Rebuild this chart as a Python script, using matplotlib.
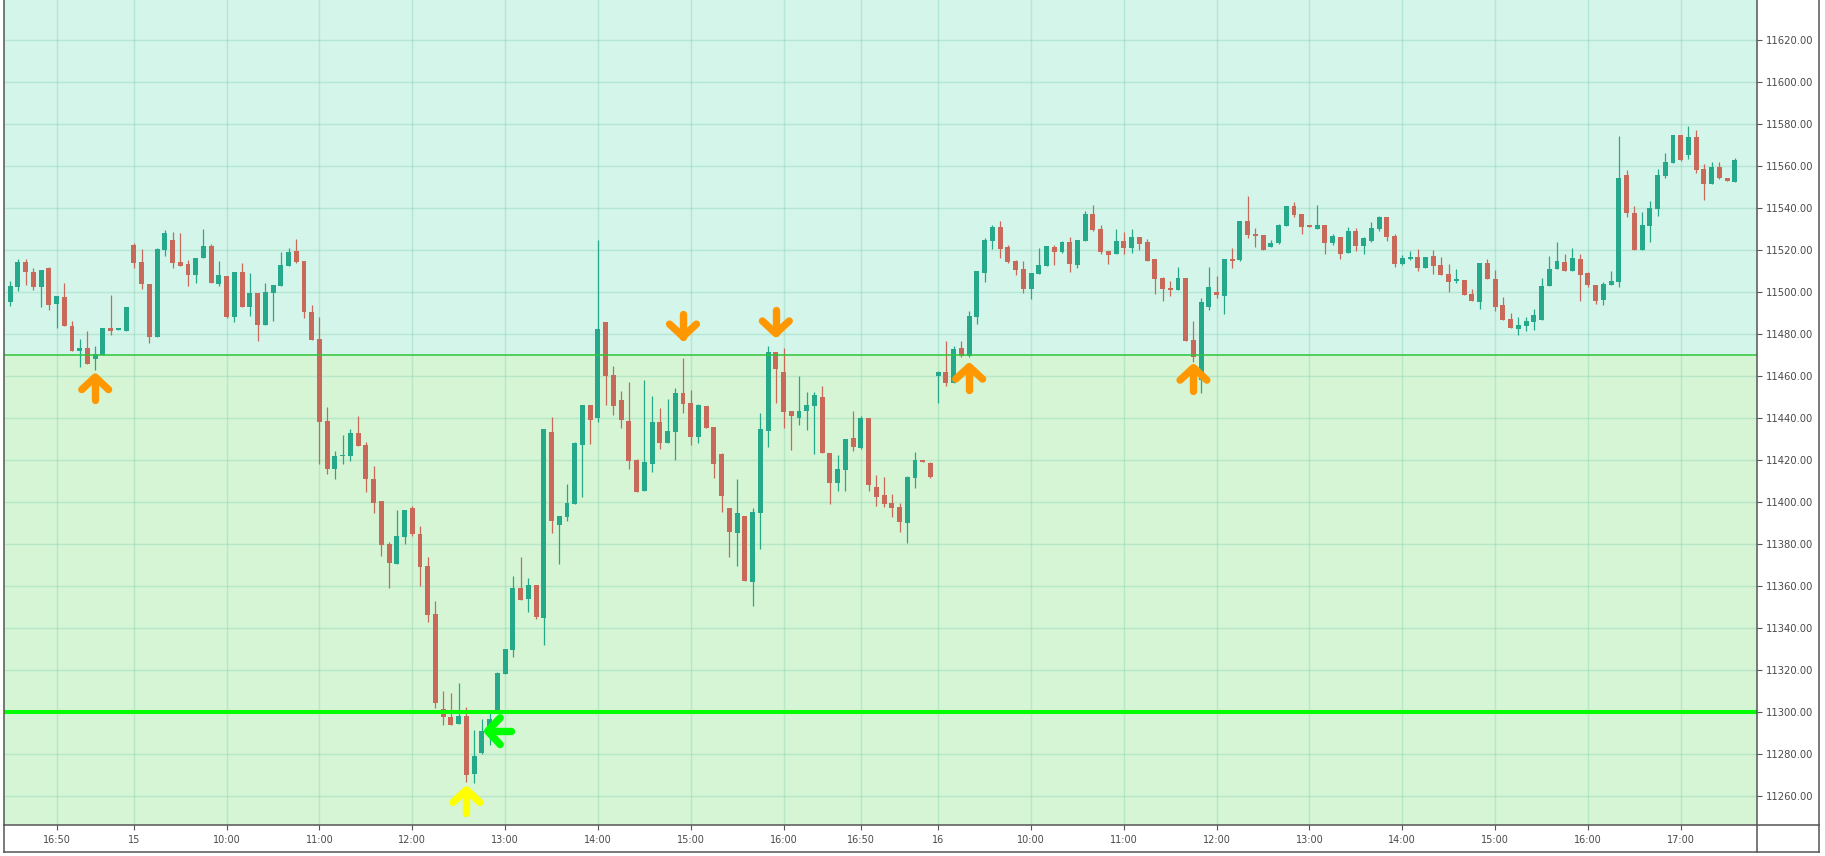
import matplotlib.pyplot as plt
from matplotlib.lines import Line2D
import numpy as np

W, H = 1825, 856

# 5-minute candles [open, high, low, close]
session_14 = [
    [11495.6, 11505.4, 11493.7, 11503.0], [11502.7, 11515.9, 11500.8, 11514.4],
    [11514.4, 11515.9, 11503.7, 11509.8], [11509.7, 11511.4, 11501.3, 11502.7],
    [11502.7, 11510.6, 11493.2, 11510.6], [11511.6, 11512.1, 11491.7, 11494.1],
    [11494.6, 11498.3, 11483.2, 11498.3], [11497.8, 11504.4, 11484.1, 11484.1],
    [11484.0, 11486.3, 11472.2, 11472.2], [11472.2, 11477.8, 11464.6, 11473.5],
    [11473.5, 11481.6, 11466.0, 11466.0], [11468.0, 11474.4, 11463.0, 11470.6],
    [11470.3, 11483.0, 11470.3, 11483.0], [11483.0, 11498.7, 11479.8, 11481.7],
    [11482.2, 11483.0, 11482.2, 11483.0], [11481.7, 11493.0, 11481.7, 11493.0],
]

session_15 = [
    [11522.5, 11523.5, 11511.7, 11514.1], [11514.4, 11520.6, 11501.7, 11504.1],
    [11504.0, 11504.0, 11476.0, 11478.9], [11478.9, 11521.1, 11478.9, 11520.6],
    [11520.2, 11529.7, 11517.5, 11528.3], [11524.9, 11528.7, 11511.7, 11514.1],
    [11514.4, 11528.3, 11512.7, 11512.7], [11513.5, 11515.4, 11503.2, 11508.4],
    [11508.4, 11516.3, 11504.6, 11516.3], [11516.5, 11530.2, 11516.5, 11522.1],
    [11522.1, 11523.0, 11504.6, 11504.6], [11504.1, 11514.9, 11503.2, 11508.3],
    [11507.8, 11507.8, 11487.8, 11488.4], [11488.4, 11509.6, 11485.8, 11509.6],
    [11509.6, 11514.0, 11493.1, 11493.1], [11493.1, 11509.1, 11488.7, 11499.6],
    [11499.6, 11499.6, 11476.9, 11484.5], [11484.5, 11504.4, 11484.5, 11500.2],
    [11499.6, 11503.5, 11486.4, 11503.5], [11503.1, 11519.1, 11503.1, 11512.9],
    [11512.5, 11521.1, 11512.5, 11519.1], [11519.6, 11525.3, 11514.0, 11514.4],
    [11514.9, 11514.9, 11487.8, 11490.7], [11490.7, 11494.0, 11477.3, 11477.3],
    [11477.8, 11488.4, 11418.4, 11438.0], [11438.9, 11445.5, 11413.6, 11416.0],
    [11416.0, 11424.5, 11410.9, 11422.2], [11422.0, 11431.8, 11418.0, 11422.7],
    [11421.8, 11435.1, 11419.8, 11433.1], [11433.1, 11441.3, 11426.9, 11426.9],
    [11427.5, 11428.9, 11404.7, 11410.9], [11411.3, 11417.1, 11395.1, 11399.8],
    [11400.4, 11400.4, 11374.2, 11379.5], [11380.0, 11380.9, 11359.1, 11370.9],
    [11370.4, 11396.5, 11370.4, 11383.8], [11383.3, 11396.5, 11380.0, 11396.5],
    [11397.1, 11398.0, 11383.8, 11384.7], [11385.1, 11388.9, 11360.0, 11369.1],
    [11369.5, 11373.8, 11342.9, 11346.4], [11346.7, 11352.9, 11302.0, 11304.4],
    [11301.6, 11310.2, 11293.7, 11297.5], [11297.9, 11309.2, 11293.7, 11294.0],
    [11294.6, 11314.0, 11294.6, 11298.3], [11298.3, 11302.5, 11266.8, 11270.2],
    [11270.6, 11291.6, 11266.3, 11279.2], [11280.6, 11296.8, 11280.2, 11291.1],
    [11289.0, 11301.0, 11284.4, 11296.8], [11299.5, 11319.2, 11299.5, 11318.7],
    [11318.3, 11330.2, 11318.3, 11330.2], [11329.7, 11364.9, 11326.3, 11359.2],
    [11359.2, 11374.0, 11353.5, 11353.5], [11354.0, 11364.0, 11347.8, 11360.6],
    [11360.6, 11360.6, 11344.4, 11345.4], [11345.1, 11434.9, 11332.1, 11434.9],
    [11433.5, 11440.6, 11385.6, 11391.3], [11389.4, 11393.5, 11370.8, 11393.5],
    [11393.2, 11408.7, 11391.3, 11399.7], [11399.4, 11428.7, 11399.4, 11428.3],
    [11427.5, 11446.3, 11402.7, 11446.3], [11446.3, 11446.3, 11427.9, 11439.4],
    [11440.3, 11524.9, 11438.4, 11482.5], [11485.9, 11485.9, 11446.5, 11460.3],
    [11460.6, 11464.9, 11441.7, 11446.0], [11448.7, 11453.0, 11435.6, 11439.4],
    [11438.7, 11457.3, 11416.0, 11419.8], [11420.2, 11420.6, 11405.1, 11405.1],
    [11405.6, 11458.3, 11405.6, 11419.2], [11418.4, 11450.6, 11414.6, 11438.3],
    [11438.3, 11444.9, 11425.6, 11428.4], [11428.4, 11449.2, 11428.4, 11434.0],
    [11433.7, 11454.4, 11420.3, 11452.1], [11452.1, 11468.7, 11442.7, 11447.0],
    [11447.3, 11453.5, 11427.5, 11431.3], [11431.3, 11446.8, 11428.4, 11446.3],
    [11445.9, 11445.9, 11435.6, 11435.6], [11435.9, 11435.9, 11411.7, 11418.4],
    [11423.0, 11423.5, 11395.6, 11403.2], [11397.3, 11397.3, 11373.7, 11386.0],
    [11385.6, 11411.1, 11369.8, 11394.9], [11393.5, 11393.5, 11362.7, 11362.7],
    [11362.2, 11397.3, 11350.8, 11395.4], [11395.1, 11442.5, 11377.9, 11434.9],
    [11434.1, 11474.4, 11426.5, 11471.6], [11471.6, 11471.6, 11447.5, 11463.7],
    [11462.1, 11473.5, 11435.6, 11443.2], [11443.5, 11443.5, 11425.1, 11441.3],
    [11440.3, 11460.2, 11437.0, 11443.5], [11443.7, 11452.5, 11434.6, 11446.3],
    [11446.0, 11452.5, 11423.2, 11451.1], [11450.2, 11455.4, 11423.7, 11423.7],
    [11423.5, 11423.5, 11399.4, 11409.4], [11409.4, 11422.5, 11405.6, 11415.9],
    [11415.6, 11430.2, 11405.6, 11430.2], [11430.6, 11443.5, 11424.6, 11426.5],
    [11426.0, 11441.1, 11425.6, 11440.2], [11440.2, 11440.2, 11405.6, 11408.4],
    [11407.3, 11413.0, 11398.4, 11402.7], [11403.5, 11412.1, 11397.9, 11399.4],
    [11399.7, 11404.0, 11393.2, 11397.5], [11397.8, 11399.7, 11386.0, 11390.8],
    [11390.3, 11412.5, 11380.8, 11412.1], [11411.7, 11424.0, 11407.0, 11420.2],
    [11420.0, 11420.0, 11419.4, 11419.4], [11418.7, 11419.2, 11411.7, 11412.2],
]

session_16 = [
    [11460.3, 11462.5, 11447.4, 11462.1], [11462.1, 11476.8, 11455.5, 11456.9],
    [11457.0, 11474.4, 11457.0, 11473.0], [11473.5, 11476.8, 11469.2, 11469.7],
    [11469.7, 11491.1, 11469.2, 11488.7], [11488.4, 11510.2, 11484.9, 11510.2],
    [11509.4, 11525.9, 11505.1, 11524.9], [11524.4, 11532.1, 11520.6, 11531.1],
    [11531.1, 11534.0, 11516.3, 11520.8], [11521.6, 11522.5, 11514.0, 11514.4],
    [11514.9, 11515.4, 11508.3, 11510.6], [11511.1, 11514.9, 11499.7, 11501.6],
    [11501.6, 11509.2, 11496.8, 11509.2], [11508.7, 11521.1, 11508.7, 11513.0],
    [11512.5, 11522.1, 11512.5, 11522.1], [11521.6, 11522.5, 11513.0, 11519.2],
    [11519.2, 11524.4, 11518.7, 11524.0], [11524.0, 11526.3, 11509.7, 11513.5],
    [11513.0, 11524.9, 11511.6, 11524.9], [11524.4, 11538.7, 11524.4, 11537.3],
    [11537.3, 11541.6, 11529.2, 11529.7], [11530.2, 11532.1, 11518.3, 11519.2],
    [11519.7, 11519.7, 11513.5, 11517.8], [11518.3, 11530.2, 11518.3, 11524.4],
    [11524.4, 11528.7, 11518.3, 11521.1], [11521.1, 11530.2, 11518.7, 11526.3],
    [11526.3, 11526.3, 11520.2, 11523.0], [11524.0, 11525.4, 11514.9, 11514.9],
    [11515.9, 11515.9, 11499.2, 11506.3], [11506.8, 11507.3, 11495.9, 11501.6],
    [11502.1, 11505.4, 11498.3, 11501.1], [11501.1, 11512.1, 11501.1, 11506.8],
    [11506.8, 11506.8, 11476.8, 11476.8], [11477.3, 11486.3, 11467.0, 11469.4],
    [11458.0, 11497.3, 11452.0, 11495.4], [11493.0, 11512.1, 11491.6, 11502.5],
    [11500.2, 11507.8, 11497.3, 11498.7], [11498.3, 11515.9, 11489.7, 11515.9],
    [11515.9, 11521.1, 11511.6, 11514.9], [11515.4, 11534.0, 11514.9, 11534.0],
    [11534.0, 11545.9, 11525.9, 11527.3], [11527.8, 11530.6, 11521.6, 11526.8],
    [11527.3, 11527.3, 11520.2, 11520.2], [11521.6, 11524.9, 11521.6, 11523.5],
    [11523.5, 11532.5, 11523.0, 11532.1], [11531.6, 11541.1, 11531.6, 11541.1],
    [11541.1, 11543.0, 11535.9, 11536.8], [11537.3, 11537.3, 11527.8, 11531.1],
    [11532.1, 11532.1, 11531.1, 11531.1], [11530.2, 11541.6, 11530.2, 11532.1],
    [11532.1, 11532.1, 11518.3, 11523.5], [11523.5, 11527.8, 11522.5, 11526.8],
    [11526.3, 11526.3, 11515.9, 11518.3], [11518.7, 11531.1, 11518.7, 11529.2],
    [11529.2, 11530.6, 11519.7, 11522.1], [11522.1, 11526.3, 11518.3, 11525.9],
    [11524.4, 11533.5, 11524.0, 11530.6], [11530.2, 11536.3, 11529.2, 11535.9],
    [11535.9, 11535.9, 11524.4, 11526.3], [11526.8, 11527.8, 11512.1, 11513.5],
    [11513.5, 11517.8, 11513.0, 11516.3], [11515.9, 11519.7, 11515.4, 11516.8],
    [11516.8, 11520.6, 11510.2, 11511.6], [11511.6, 11516.8, 11511.6, 11516.8],
    [11517.3, 11520.2, 11508.7, 11512.5], [11513.0, 11516.8, 11508.3, 11508.3],
    [11508.7, 11513.5, 11500.2, 11504.9], [11505.4, 11511.1, 11504.4, 11506.3],
    [11505.9, 11505.9, 11498.7, 11498.7], [11499.2, 11501.6, 11495.9, 11495.9],
    [11495.4, 11514.0, 11492.1, 11514.0], [11514.0, 11515.9, 11506.3, 11506.3],
    [11506.3, 11510.6, 11491.1, 11493.0], [11494.0, 11497.8, 11486.8, 11486.8],
    [11487.3, 11490.2, 11483.0, 11483.0], [11482.5, 11488.3, 11479.7, 11484.4],
    [11484.0, 11488.3, 11481.6, 11486.3], [11485.9, 11492.1, 11482.1, 11489.2],
    [11486.8, 11506.8, 11486.8, 11503.0], [11503.0, 11517.3, 11503.0, 11511.1],
    [11511.1, 11524.0, 11511.1, 11514.9], [11514.4, 11518.3, 11510.2, 11510.2],
    [11510.2, 11521.1, 11510.2, 11516.3], [11515.9, 11518.3, 11495.9, 11508.3],
    [11509.2, 11509.7, 11502.5, 11503.5], [11503.5, 11503.5, 11494.4, 11495.9],
    [11496.3, 11504.9, 11494.0, 11504.0], [11503.5, 11510.2, 11503.5, 11505.4],
    [11504.9, 11574.4, 11502.5, 11554.4], [11555.9, 11558.3, 11535.9, 11537.8],
    [11537.8, 11541.1, 11520.2, 11520.2], [11520.2, 11538.3, 11520.2, 11532.1],
    [11531.6, 11543.5, 11524.0, 11540.2], [11539.7, 11558.7, 11536.3, 11555.9],
    [11555.4, 11566.3, 11554.4, 11562.1], [11561.6, 11574.9, 11561.6, 11574.9],
    [11574.9, 11574.9, 11562.5, 11563.0], [11565.4, 11579.2, 11563.5, 11574.0],
    [11574.0, 11577.3, 11556.8, 11558.3], [11558.7, 11561.1, 11544.0, 11551.6],
    [11551.6, 11562.1, 11551.6, 11559.7], [11559.7, 11562.1, 11554.0, 11554.4],
    [11554.4, 11554.4, 11553.0, 11553.0], [11552.5, 11564.0, 11552.5, 11563.0],
]

tick_bars = [6, 16, 28, 40, 52, 64, 76, 88, 100, 110,
             120, 132, 144, 156, 168, 180, 192, 204, 216]
tick_labels = ["16:50", "15", "10:00", "11:00", "12:00", "13:00", "14:00", "15:00",
               "16:00", "16:50", "16", "10:00", "11:00", "12:00", "13:00", "14:00",
               "15:00", "16:00", "17:00"]
price_ticks = list(range(11260, 11621, 20))

zone_level = 11470
support_level = 11300

# signal arrows: bar, price at the arrow tip, direction
arrow_bars = [11, 87, 99, 124, 153, 61.1, 59]
arrow_prices = [11462, 11476.5, 11478, 11467, 11466.5, 11291, 11265.4]
arrow_dirs = ["up", "down", "down", "up", "up", "left", "up"]
arrow_colors = ["#ff9800"] * 5 + ["#00ff00", "#ffff00"]

# layout in pixels
ax_l, ax_r, ax_t, ax_b = 4.3, 1757.3, 0, 825
xmin, xmax = -0.75, 225.9
ymin, ymax = 11246.3, 11639.2

fig = plt.figure(figsize=(W / 100, H / 100), dpi=100)
ax = fig.add_axes([ax_l / W, 1 - ax_b / H, (ax_r - ax_l) / W, (ax_b - ax_t) / H])
ax.set_xlim(xmin, xmax)
ax.set_ylim(ymin, ymax)

ax.axhspan(zone_level, ymax, color="#d4f5ea", zorder=0.2, lw=0)
ax.axhspan(ymin, zone_level, color="#d5f5d5", zorder=0.2, lw=0)
ax.set_axisbelow(True)
ax.grid(True, color="#5bbf9a", alpha=0.25, lw=1.0)

ohlc = np.array(session_14 + session_15 + session_16)
o, h, l, c = ohlc.T
x = np.arange(len(ohlc))
colors = np.where(c >= o, "#26a98b", "#c9695a")
ax.vlines(x, l, h, colors=colors, lw=0.9, zorder=2)
ax.bar(x, np.maximum(np.abs(c - o), 0.7), bottom=np.minimum(o, c), width=0.64,
       color=colors, linewidth=0, zorder=2.5)

ax.axhline(zone_level, color="#2fc43a", lw=1.1, zorder=3)
ax.axhline(support_level, color="#00ff00", lw=2.9, zorder=3)

# arrows drawn with pixel-sized strokes
px_x = (xmax - xmin) / (ax_r - ax_l)
px_y = (ymax - ymin) / (ax_b - ax_t)
shaft = np.array([[0, -5], [0, -28]])
head = np.array([[-13.4, -17.5], [0, -5], [13.4, -17.5]])
rot = {"up": lambda p: p,
       "down": lambda p: p * [1, -1],
       "left": lambda p: np.column_stack([-p[:, 1], p[:, 0]])}
for bx, py, d, col in zip(arrow_bars, arrow_prices, arrow_dirs, arrow_colors):
    for part in (shaft, head):
        q = rot[d](part.astype(float))
        ax.plot(bx + q[:, 0] * px_x, py + q[:, 1] * px_y, color=col, lw=5.3,
                solid_capstyle="round", solid_joinstyle="round", zorder=5)

for s in ax.spines.values():
    s.set_visible(False)
ax.yaxis.tick_right()
ax.set_yticks(price_ticks, [f"{v:.2f}" for v in price_ticks])
ax.set_xticks(tick_bars, tick_labels)
ax.tick_params(axis="y", length=3.6, width=0.8, color="#555555", labelsize=7.2,
               labelcolor="#4a4a4a", pad=2.5)
ax.tick_params(axis="x", length=3.6, width=0.8, color="#555555", labelsize=7,
               labelcolor="#4a4a4a", pad=3.5)


def frame_line(x0, y0, x1, y1):
    fig.add_artist(Line2D([x0 / W, x1 / W], [1 - y0 / H, 1 - y1 / H],
                          color="#555555", lw=1.1))


for xv in (ax_l, ax_r, 1819.3):
    frame_line(xv, 0, xv, 852)
for yv in (ax_b, 852):
    frame_line(ax_l, yv, 1819.3, yv)

fig.savefig("out.png", dpi=100)
